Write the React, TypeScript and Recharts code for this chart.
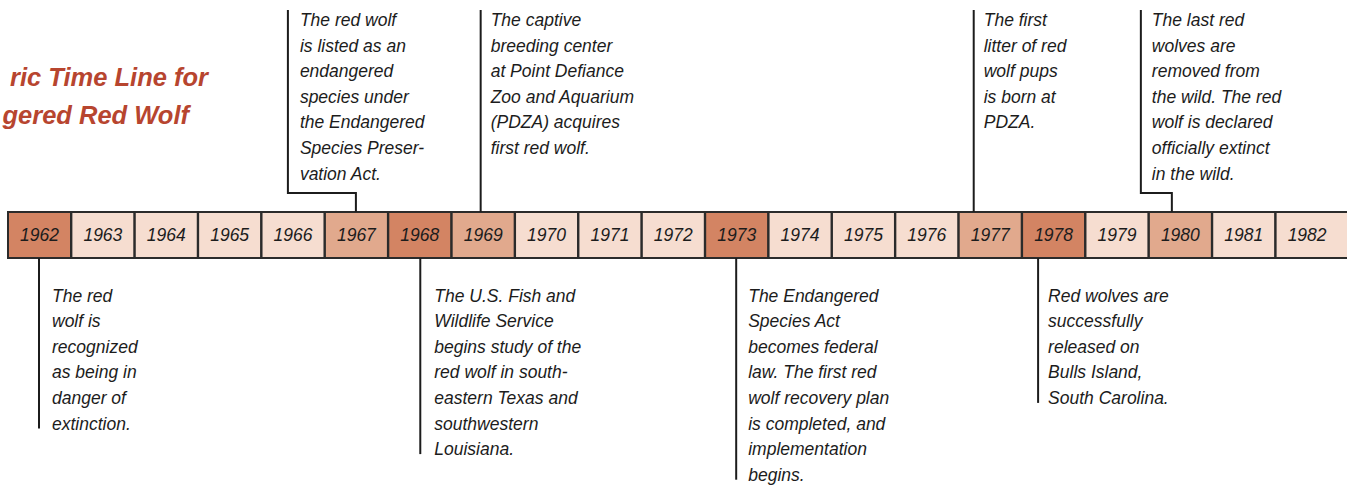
import React from 'react';
import { BarChart, Bar, XAxis, YAxis, LabelList, Customized } from 'recharts';

// one box per year on the time line
const YEARS = [
  '1962', '1963', '1964', '1965', '1966', '1967', '1968', '1969', '1970', '1971', '1972',
  '1973', '1974', '1975', '1976', '1977', '1978', '1979', '1980', '1981', '1982',
];
const SPAN = YEARS.map(() => 1);

// the title is cropped at the left edge in the original, only this part shows
const TITLE_LINES = ['ric Time Line for', 'gered Red Wolf'];

// events, keyed by year
const EVENT_YEARS = ['1962', '1967', '1968', '1969', '1973', '1977', '1978', '1980'];
const EVENT_SIDES = ['below', 'above', 'below', 'above', 'below', 'above', 'below', 'above'];
const EVENT_TEXT = [
  ['The red', 'wolf is', 'recognized', 'as being in', 'danger of', 'extinction.'],
  ['The red wolf', 'is listed as an', 'endangered', 'species under', 'the Endangered', 'Species Preser-', 'vation Act.'],
  ['The U.S. Fish and', 'Wildlife Service', 'begins study of the', 'red wolf in south-', 'eastern Texas and', 'southwestern', 'Louisiana.'],
  ['The captive', 'breeding center', 'at Point Defiance', 'Zoo and Aquarium', '(PDZA) acquires', 'first red wolf.'],
  ['The Endangered', 'Species Act', 'becomes federal', 'law. The first red', 'wolf recovery plan', 'is completed, and', 'implementation', 'begins.'],
  ['The first', 'litter of red', 'wolf pups', 'is born at', 'PDZA.'],
  ['Red wolves are', 'successfully', 'released on', 'Bulls Island,', 'South Carolina.'],
  ['The last red', 'wolves are', 'removed from', 'the wild. The red', 'wolf is declared', 'officially extinct', 'in the wild.'],
];

// connector placement relative to the box's left edge (style only)
const CONNECTOR: Record<string, { line: number; text: number; elbow?: number }> = {
  '1962': { line: 31, text: 13 },
  '1967': { line: 31, elbow: -37, text: 12 },
  '1968': { line: 32, text: 14 },
  '1969': { line: 29, text: 10 },
  '1973': { line: 31, text: 12 },
  '1977': { line: 15, text: 10 },
  '1978': { line: 16, text: 10 },
  '1980': { line: 23, elbow: -8, text: 11 },
};

const FILL_BELOW = '#D38463';
const FILL_ABOVE = '#E1A98D';
const FILL_PLAIN = '#F6DDD0';
const INK = '#1c1c1c';
const TITLE_RED = '#B7452F';
const FONT = '"Liberation Sans", Arial, sans-serif';
const LINE_H = 25.6;

const rows = YEARS.map((year, i) => {
  const k = EVENT_YEARS.indexOf(year);
  return {
    year,
    span: SPAN[i],
    side: k >= 0 ? EVENT_SIDES[k] : null,
    lines: k >= 0 ? EVENT_TEXT[k] : [],
  };
});

function NoteText({ x, y0, lines }: { x: number; y0: number; lines: string[] }) {
  return (
    <>
      {lines.map((t, i) => (
        <text key={i} x={x} y={y0 + i * LINE_H} fontFamily={FONT} fontStyle="italic"
          fontSize={17.5} fill={INK}>{t}</text>
      ))}
    </>
  );
}

function YearBox(props: any) {
  const { x, y, width, height, payload, index } = props;
  const fill =
    payload.side === 'below' ? FILL_BELOW : payload.side === 'above' ? FILL_ABOVE : FILL_PLAIN;
  const last = index === YEARS.length - 1;
  const conn = CONNECTOR[payload.year];
  let note = null;

  if (payload.side && conn) {
    const lx = x + conn.line;
    const lines: string[] = payload.lines;
    if (payload.side === 'below') {
      const base0 = y + height + 43.5;
      const end = base0 + (lines.length - 1) * LINE_H - 1;
      note = (
        <g>
          <line x1={lx} y1={y + height} x2={lx} y2={end} stroke={INK} strokeWidth={2} />
          <NoteText x={lx + conn.text} y0={base0} lines={lines} />
        </g>
      );
    } else {
      const base0 = y - 186;
      const topY = base0 - 16;
      const elbowY = y - 19;
      const vx = conn.elbow !== undefined ? x + conn.elbow : lx;
      const d =
        conn.elbow !== undefined
          ? `M${lx},${y} V${elbowY} H${vx} V${topY}`
          : `M${lx},${y} V${topY}`;
      note = (
        <g>
          <path d={d} fill="none" stroke={INK} strokeWidth={2} />
          <NoteText x={vx + conn.text} y0={base0} lines={lines} />
        </g>
      );
    }
  }

  return (
    <g>
      <rect x={x} y={y} width={last ? width + 30 : width} height={height} fill={fill}
        stroke="#2b2b2b" strokeWidth={2} />
      {note}
    </g>
  );
}

function Title() {
  return (
    <g>
      {TITLE_LINES.map((t, i) => (
        <text key={i} x={i === 0 ? 208 : 189} y={i === 0 ? 86 : 124} textAnchor="end"
          fontFamily={FONT} fontStyle="italic" fontWeight="bold" fontSize={25.5} fill={TITLE_RED}>
          {t}
        </text>
      ))}
    </g>
  );
}

export default function App() {
  return (
    <div style={{ position: 'absolute', left: 0, top: 0, background: '#ffffff' }}>
      <BarChart
        width={1347}
        height={487}
        data={rows}
        margin={{ top: 212, right: 8, bottom: 229, left: 8 }}
        barCategoryGap={0}
        barGap={0}
      >
        <XAxis dataKey="year" hide />
        <YAxis hide domain={[0, 1]} />
        <Customized component={<Title />} />
        <Bar dataKey="span" shape={YearBox} isAnimationActive={false}>
          <LabelList dataKey="year" position="center" fill={INK} fontSize={17.5}
            fontStyle="italic" fontFamily={FONT} />
        </Bar>
      </BarChart>
    </div>
  );
}
